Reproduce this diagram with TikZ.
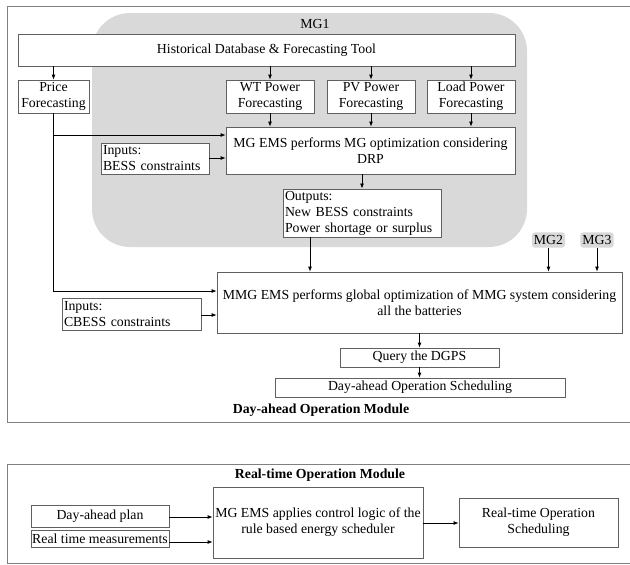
\documentclass[tikz,border=0pt]{standalone}
\usepackage{fontspec}
\setmainfont{Liberation Serif}
\usetikzlibrary{arrows.meta}
\definecolor{mgfill}{HTML}{D9D9D9}
\definecolor{boxline}{HTML}{606060}
\begin{document}
\begin{tikzpicture}[x=1pt,y=-1pt,
  every node/.style={font=\fontsize{13.8}{16}\selectfont},
  bx/.style={draw=boxline,fill=white,line width=0.8pt,inner sep=1pt,align=center},
  lbx/.style={draw=boxline,fill=white,line width=0.8pt,inner sep=2pt,align=left,text width=#1},
  arr/.style={-{Latex[length=5pt,width=4pt]},line width=0.8pt,black},
  mgs/.style={fill=mgfill,rounded corners=3pt,inner xsep=2pt,inner ysep=3pt},
  frame/.style={draw=gray,line width=0.8pt}]
\useasboundingbox (0,0) rectangle (630,565);
% frames
\draw[frame] (7,6) -- (640,6) (7,6) -- (7,422) -- (640,422);
\draw[frame] (7,464) -- (640,464) (7,464) -- (7,563) -- (640,563);
% MG1 region
\fill[mgfill,rounded corners=38pt] (92,13) rectangle (527,247);
\node (mg1) at (315,24) {MG1};
% nodes
\node[bx,minimum width=497pt,minimum height=32pt] (hist) at (266.5,50) {Historical Database \& Forecasting Tool};
\node[bx,minimum width=71pt,minimum height=33pt] (price) at (53.5,96.5) {Price\\Forecasting};
\node[bx,minimum width=88pt,minimum height=33pt] (wt) at (270,96.5) {WT Power\\Forecasting};
\node[bx,minimum width=88pt,minimum height=33pt] (pv) at (371,96.5) {PV Power\\Forecasting};
\node[bx,minimum width=88pt,minimum height=33pt] (load) at (471,96.5) {Load Power\\Forecasting};
\node[bx,minimum width=289pt,minimum height=47pt] (opt) at (370.5,150.5) {MG EMS performs MG optimization considering\\DRP};
\node[lbx=104pt,minimum height=31pt] (bess) at (155,158.5) {Inputs:\\BESS constraints};
\node[lbx=154pt,minimum height=48pt] (out) at (362,213) {Outputs:\\New BESS constraints\\Power shortage or surplus};
\node[mgs] (mg2) at (548.5,240) {MG2};
\node[mgs] (mg3) at (597,240) {MG3};
\node[bx,minimum width=405pt,minimum height=61pt] (mmg) at (419.5,302.5) {MMG EMS performs global optimization of MMG system considering\\all the batteries};
\node[lbx=135pt,minimum height=32pt] (cbess) at (131.5,314) {Inputs:\\CBESS constraints};
\node[bx,minimum width=159pt,minimum height=19pt] (query) at (419.5,357.5) {Query the DGPS};
\node[bx,minimum width=290pt,minimum height=19pt] (das) at (420,387.5) {Day-ahead Operation Scheduling};
\node[font=\fontsize{13.8}{16}\selectfont\bfseries] (dam) at (321,410) {Day-ahead Operation Module};
% bottom module
\node[font=\fontsize{13.8}{16}\selectfont\bfseries] (rtm) at (320,475) {Real-time Operation Module};
\node[bx,minimum width=138pt,minimum height=22pt] (plan) at (100,516) {Day-ahead plan};
\node[bx,minimum width=138pt,minimum height=17pt] (meas) at (100,539) {Real time measurements};
\node[bx,minimum width=210pt,minimum height=71pt] (apply) at (318,522.5) {MG EMS applies control logic of the\\rule based energy scheduler};
\node[bx,minimum width=159pt,minimum height=49pt] (rts) at (538.5,522.5) {Real-time Operation\\Scheduling};
% arrows
\draw[arr] (hist.south -| price) -- (price.north);
\draw[arr] (hist.south -| wt) -- (wt.north);
\draw[arr] (hist.south -| pv) -- (pv.north);
\draw[arr] (hist.south -| load) -- (load.north);
\draw[arr] (wt.south) -- (opt.north -| wt);
\draw[arr] (pv.south) -- (opt.north -| pv);
\draw[arr] (load.south) -- (opt.north -| load);
\coordinate (pb) at (53.5,135);
\draw[arr] (pb) -- (pb -| opt.west);
\draw[arr] (price.south) |- (mmg.west |- 0,291);
\draw[arr] (bess.east |- 0,158) -- (opt.west |- 0,158);
\draw[arr] (opt.south -| out) -- (out.north);
\draw[arr] (out.south -| 310,0) -- (mmg.north -| 310,0);
\draw[arr] (mg2.south) -- (mmg.north -| mg2);
\draw[arr] (mg3.south) -- (mmg.north -| mg3);
\draw[arr] (cbess.east |- 0,315) -- (mmg.west |- 0,315);
\draw[arr] (mmg.south -| query) -- (query.north);
\draw[arr] (query.south) -- (das.north -| query);
\draw[arr] (plan.east |- 0,517) -- (apply.west |- 0,517);
\draw[arr] (meas.east |- 0,542) -- (apply.west |- 0,542);
\draw[arr] (apply.east |- 0,523) -- (rts.west |- 0,523);
\end{tikzpicture}
\end{document}
